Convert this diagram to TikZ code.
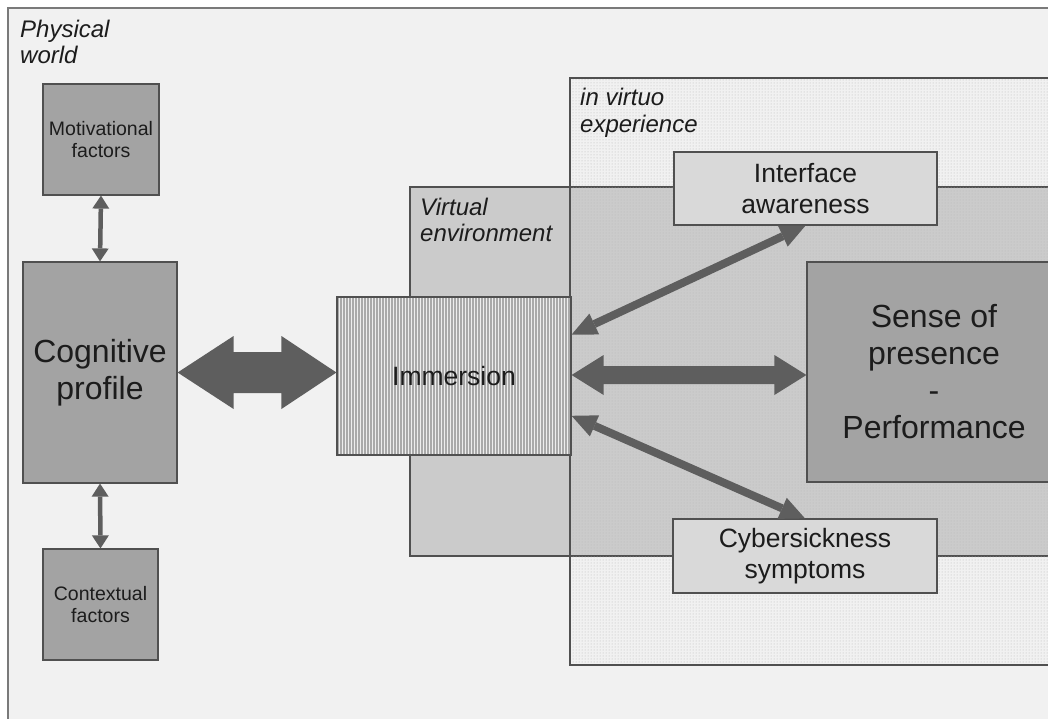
\documentclass[tikz,border=0pt]{standalone}
\usepackage{fontspec}
\setmainfont{Liberation Sans}
\usetikzlibrary{arrows.meta,calc,patterns}
\definecolor{bgc}{HTML}{F1F1F1}
\definecolor{framec}{HTML}{7A7A7A}
\definecolor{edgec}{HTML}{505050}
\definecolor{darkbox}{HTML}{A3A3A3}
\definecolor{vec}{HTML}{CBCBCB}
\definecolor{immc}{HTML}{A9A9A9}
\definecolor{lightbox}{HTML}{D9D9D9}
\definecolor{arrc}{HTML}{5E5E5E}
\definecolor{txtc}{HTML}{1C1C1C}
\begin{document}
\begin{tikzpicture}[x=1pt,y=-1pt,
  box/.style={draw=edgec, line width=1.2pt, rectangle, inner sep=0pt, align=center, text=txtc},
  darkb/.style={box, fill=darkbox},
  lightb/.style={box, fill=lightbox},
  lbl/.style={inner sep=0pt, align=left, anchor=north west, text=txtc, font=\fontsize{24}{26.5}\selectfont\itshape},
  small/.style={font=\fontsize{19.5}{22}\selectfont},
  big/.style={font=\fontsize{32}{37}\selectfont},
  mid/.style={font=\fontsize{26.5}{31}\selectfont},
  thin arrow/.style={draw=arrc, line width=4.5pt, {Triangle[length=13pt,width=17pt,line width=0pt]}-{Triangle[length=13pt,width=17pt,line width=0pt]}},
  diag arrow/.style={draw=arrc, line width=8pt, {Triangle[length=25pt,width=23pt,line width=0pt]}-{Triangle[length=25pt,width=23pt,line width=0pt]}},
  fat/.style={fill=arrc, draw=none}
]
\useasboundingbox (0,0) rectangle (1048,719);
\clip (0,0) rectangle (1048,719);
\fill[white] (0,0) rectangle (1048,719);
% physical world frame
\node[draw=framec, line width=1.5pt, fill=bgc, minimum width=1060, minimum height=730, inner sep=0pt] (pw) at (538,373) {};
\node[lbl] (pwl) at (20,19.5) {Physical\\world};
% virtual environment
\node[draw=edgec, line width=1.2pt, fill=vec, minimum width=670, minimum height=369, inner sep=0pt] (ve) at (745,371.5) {};
\node[lbl] (vel) at (420,197.5) {Virtual\\environment};
% in virtuo experience
\node[draw=edgec, line width=1.2pt, pattern=dots, pattern color=black!28, minimum width=510, minimum height=587, inner sep=0pt] (iv) at (825,371.5) {};
\node[lbl] (ivl) at (580,88) {in virtuo\\experience};
% left column
\node[darkb, small, minimum width=116, minimum height=111] (mot) at (101,139.5) {Motivational\\factors};
\node[darkb, big, minimum width=154, minimum height=221] (cog) at (100,372.5) {Cognitive\\profile};
\node[darkb, small, minimum width=115, minimum height=111] (ctx) at (100.5,604.5) {Contextual\\factors};
\draw[thin arrow] (mot.south) -- (cog.north);
\draw[thin arrow] (cog.south) -- (ctx.north);
% immersion
\node[box, fill=immc, minimum width=234, minimum height=158] (immbg) at (454,376) {};
\node[box, pattern=vertical lines, pattern color=black!7, mid, minimum width=234, minimum height=158] (imm) at (454,376) {Immersion};
% right boxes
\node[lightb, mid, minimum width=263, minimum height=73] (ia) at (805.5,188.5) {Interface\\awareness};
\node[lightb, mid, minimum width=264, minimum height=74] (cs) at (805,556) {Cybersickness\\symptoms};
\node[darkb, big, minimum width=254, minimum height=220] (sp) at (934,372) {Sense of\\presence\\-\\Performance};
% fat arrow cognitive <-> immersion
\coordinate (fl) at (cog.east);
\coordinate (fr) at (imm.west |- cog.east);
\fill[fat] (fl) -- ($(fl)+(56,-36.5)$) -- ($(fl)+(56,-20.5)$) -- ($(fr)+(-55,-20.5)$) -- ($(fr)+(-55,-36.5)$) -- (fr)
  -- ($(fr)+(-55,36.5)$) -- ($(fr)+(-55,20.5)$) -- ($(fl)+(56,20.5)$) -- ($(fl)+(56,36.5)$) -- cycle;
% fat arrow immersion <-> sense of presence
\coordinate (ml) at ($(imm.east)+(0,-1)$);
\coordinate (mr) at (sp.west |- ml);
\fill[fat] (ml) -- ($(ml)+(32,-20)$) -- ($(ml)+(32,-9)$) -- ($(mr)+(-32,-9)$) -- ($(mr)+(-32,-20)$) -- (mr)
  -- ($(mr)+(-32,20)$) -- ($(mr)+(-32,9)$) -- ($(ml)+(32,9)$) -- ($(ml)+(32,20)$) -- cycle;
% diagonal arrows
\coordinate (du) at ($(imm.north east)!0.24!(imm.south east)$);
\coordinate (dd) at ($(imm.north east)!0.75!(imm.south east)$);
\draw[diag arrow] (du) -- (ia.south);
\draw[diag arrow] (dd) -- (cs.north);
\end{tikzpicture}
\end{document}
